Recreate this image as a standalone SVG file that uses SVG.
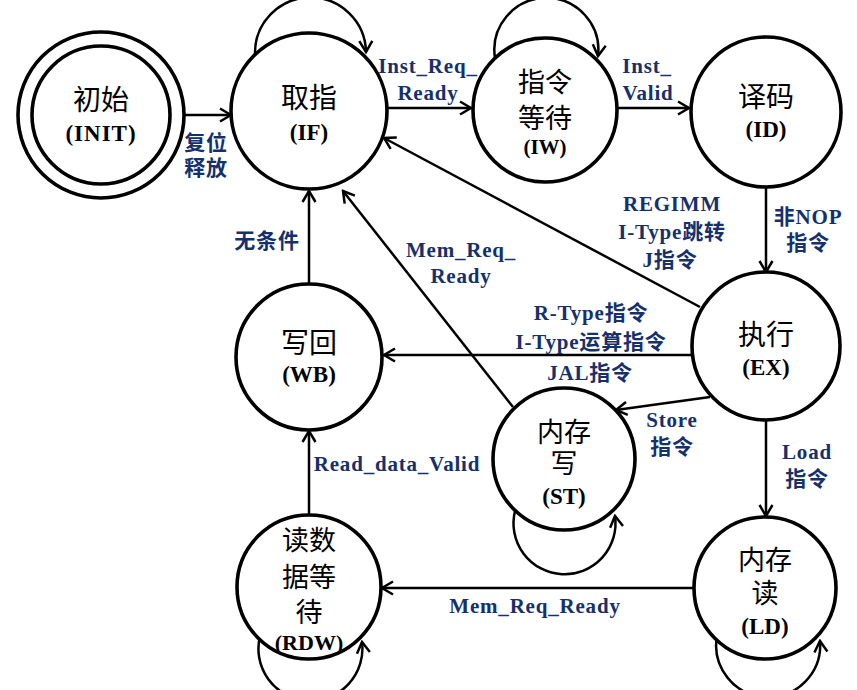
<svg xmlns="http://www.w3.org/2000/svg" width="857" height="690" viewBox="0 0 857 690">
<style>
.st{fill:#fff;stroke:#000;stroke-width:3.6}
.cn{font-family:"Noto Sans CJK SC","Noto Sans",sans-serif;font-size:27px;fill:#000;text-anchor:middle}
.en{font-family:"Liberation Serif","Noto Sans CJK SC",serif;font-weight:bold;font-size:23px;fill:#000;text-anchor:middle}
.lb{font-family:"Liberation Serif","Noto Sans CJK SC",serif;font-weight:bold;font-size:21px;fill:#15306b;text-anchor:middle;letter-spacing:0.8px}
.ln{fill:none;stroke:#000;stroke-width:2.5;marker-end:url(#ah)}
</style>
<defs>
<marker id="ah" markerUnits="userSpaceOnUse" markerWidth="16" markerHeight="16" viewBox="0 0 16 16" refX="14" refY="8" orient="auto">
<path d="M3,1.5 L14,8 L3,14.5" fill="none" stroke="#000" stroke-width="2.5"/>
</marker>
</defs>
<rect width="857" height="690" fill="#fff"/>
<g id="connectors">
<path class="ln" d="M185,115 L231,115"/>
<path class="ln" d="M387,108 L471,108"/>
<path class="ln" d="M618,108 L689,108"/>
<path class="ln" d="M766,187 L766,272"/>
<path class="ln" d="M700,307 L384,138"/>
<path class="ln" d="M692,355 L384,355"/>
<path class="ln" d="M309,284 L309,191"/>
<path class="ln" d="M513,407 L343,191"/>
<path class="ln" d="M710,397 L616,410"/>
<path class="ln" d="M766,420 L766,516"/>
<path class="ln" d="M694,588 L382,588"/>
<path class="ln" d="M309,515 L309,431"/>
<path class="ln" d="M255,54 A55.5,55.5 0 1 1 366,52"/>
<path class="ln" d="M495,58 A52,52 0 1 1 598,56"/>
<path class="ln" d="M515,511 A51,51 0 1 0 615,516"/>
<path class="ln" d="M717,636 A52,52 0 1 0 820,641"/>
<path class="ln" d="M260,636 A52,52 0 1 0 362,642"/>
</g>
<g id="labels">
<text class="lb" x="206" y="150">复位</text>
<text class="lb" x="206" y="175">释放</text>
<text class="lb" x="428" y="73">Inst_Req_</text>
<text class="lb" x="428" y="100">Ready</text>
<text class="lb" x="647" y="73">Inst_</text>
<text class="lb" x="648" y="100">Valid</text>
<text class="lb" x="808" y="224">非NOP</text>
<text class="lb" x="808" y="250">指令</text>
<text class="lb" x="672" y="211">REGIMM</text>
<text class="lb" x="672" y="239">I-Type跳转</text>
<text class="lb" x="670" y="267">J指令</text>
<text class="lb" x="591" y="320">R-Type指令</text>
<text class="lb" x="591" y="349">I-Type运算指令</text>
<text class="lb" x="590" y="380">JAL指令</text>
<text class="lb" x="267" y="248">无条件</text>
<text class="lb" x="461" y="257">Mem_Req_</text>
<text class="lb" x="461" y="283">Ready</text>
<text class="lb" x="672" y="427">Store</text>
<text class="lb" x="672" y="454">指令</text>
<text class="lb" x="807" y="459">Load</text>
<text class="lb" x="807" y="486">指令</text>
<text class="lb" x="397" y="471">Read_data_Valid</text>
<text class="lb" x="535" y="613">Mem_Req_Ready</text>
</g>
<g id="INIT">
<circle class="st" cx="101" cy="115" r="83"/>
<circle class="st" cx="101" cy="115" r="69"/>
<text class="cn" x="101" y="110" style="font-size:28px">初始</text>
<text class="en" x="101" y="141" style="letter-spacing:1px">(INIT)</text>
</g>
<g id="IF">
<circle class="st" cx="309" cy="111" r="78"/>
<text class="cn" x="309" y="108" style="font-size:28px">取指</text>
<text class="en" x="309" y="140">(IF)</text>
</g>
<g id="IW">
<circle class="st" cx="545" cy="110" r="72"/>
<text class="cn" x="545" y="92">指令</text>
<text class="cn" x="545" y="128">等待</text>
<text class="en" x="545" y="154" style="font-size:21px">(IW)</text>
</g>
<g id="ID">
<circle class="st" cx="766" cy="112" r="75"/>
<text class="cn" x="766" y="107" style="font-size:28px">译码</text>
<text class="en" x="766" y="137">(ID)</text>
</g>
<g id="EX">
<circle class="st" cx="766" cy="346" r="74"/>
<text class="cn" x="766" y="345" style="font-size:28px">执行</text>
<text class="en" x="766" y="375">(EX)</text>
</g>
<g id="WB">
<circle class="st" cx="309" cy="357" r="73"/>
<text class="cn" x="309" y="353" style="font-size:28px">写回</text>
<text class="en" x="309" y="382">(WB)</text>
</g>
<g id="ST">
<circle class="st" cx="564" cy="459" r="71"/>
<text class="cn" x="564" y="442">内存</text>
<text class="cn" x="564" y="473">写</text>
<text class="en" x="564" y="504">(ST)</text>
</g>
<g id="LD">
<circle class="st" cx="765" cy="588" r="71"/>
<text class="cn" x="765" y="570">内存</text>
<text class="cn" x="765" y="603">读</text>
<text class="en" x="765" y="634">(LD)</text>
</g>
<g id="RDW">
<circle class="st" cx="309" cy="587" r="72"/>
<text class="cn" x="309" y="550">读数</text>
<text class="cn" x="309" y="587">据等</text>
<text class="cn" x="309" y="622">待</text>
<text class="en" x="309" y="650" style="font-size:22px">(RDW)</text>
</g>
</svg>
